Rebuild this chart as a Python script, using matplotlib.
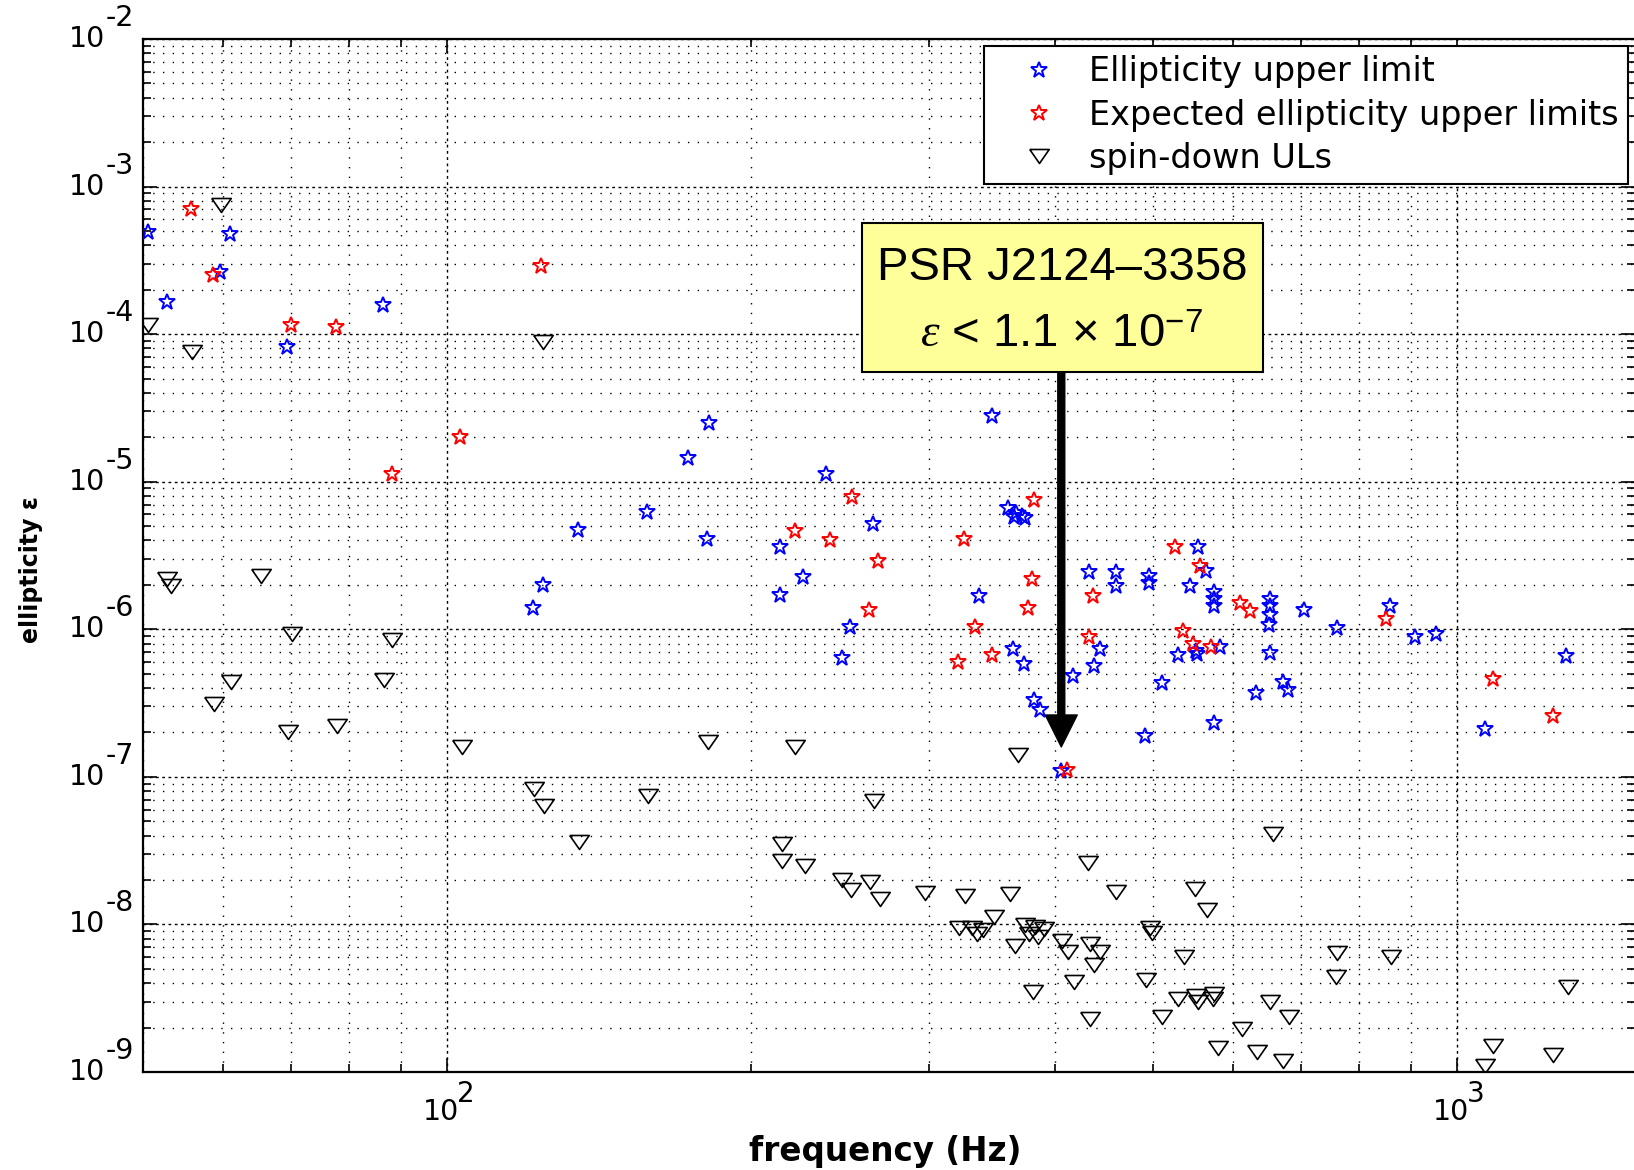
import numpy as np
import matplotlib
matplotlib.use('Agg')
import matplotlib.pyplot as plt
from matplotlib.patches import Rectangle
from matplotlib.lines import Line2D
from matplotlib.ticker import LogLocator, NullFormatter

plt.rcParams['mathtext.fontset'] = 'custom'
plt.rcParams['mathtext.rm'] = 'Liberation Sans'
plt.rcParams['mathtext.it'] = 'Liberation Serif:italic'
plt.rcParams['mathtext.bf'] = 'Liberation Sans:bold'

# ellipticity upper limits (blue stars)
ul_freq = [50.6, 52.8, 59.6, 61.0, 69.4, 86.5, 121.6, 124.4, 134.9, 157.9,
           173.3, 180.9, 181.6, 213.8, 213.8, 225.1, 237.0, 246.0, 250.3, 263.8,
           336.3, 346.7, 359, 364, 366, 370.5, 373.4, 363.5, 372.6, 381,
           386.4, 405.6, 417, 432, 437, 443, 459, 459, 491, 495,
           495, 510, 529, 543.5, 551, 553, 554, 564.5, 575, 575,
           575, 575, 582, 632, 652, 652, 652, 651, 652, 672,
           680, 706, 760, 859, 908, 952, 1065, 1282]
ul_eps = [4.9e-4, 1.66e-4, 2.65e-4, 4.8e-4, 8.2e-5, 1.58e-4, 1.4e-6, 2.0e-6, 4.7e-6, 6.2e-6,
          1.44e-5, 4.1e-6, 2.5e-5, 3.6e-6, 1.7e-6, 2.25e-6, 1.13e-5, 6.4e-7, 1.03e-6, 5.15e-6,
          1.67e-6, 2.8e-5, 6.6e-6, 5.8e-6, 6.1e-6, 5.9e-6, 5.7e-6, 7.3e-7, 5.8e-7, 3.3e-7,
          2.85e-7, 1.1e-7, 4.8e-7, 2.45e-6, 5.6e-7, 7.3e-7, 2.45e-6, 1.95e-6, 1.9e-7, 2.3e-6,
          2.05e-6, 4.3e-7, 6.7e-7, 1.97e-6, 7.1e-7, 6.8e-7, 3.6e-6, 2.5e-6, 1.8e-6, 1.6e-6,
          1.43e-6, 2.3e-7, 7.6e-7, 3.7e-7, 1.6e-6, 1.43e-6, 1.25e-6, 1.07e-6, 6.9e-7, 4.36e-7,
          3.9e-7, 1.35e-6, 1.02e-6, 1.43e-6, 8.9e-7, 9.3e-7, 2.1e-7, 6.6e-7]

# expected ellipticity upper limits (red stars)
exp_freq = [55.8, 58.6, 70.1, 77.7, 88.2, 103, 124, 220.9, 239.2, 251.7,
            261.5, 267, 320.8, 325, 333.3, 346.7, 376, 379, 381, 411,
            432, 436, 526, 535, 548, 557, 571, 610, 623, 850,
            1084, 1243]
exp_eps = [7.0e-4, 2.5e-4, 1.15e-4, 1.12e-4, 1.13e-5, 2.0e-5, 2.9e-4, 4.6e-6, 4.0e-6, 7.9e-6,
           1.35e-6, 2.9e-6, 6.0e-7, 4.1e-6, 1.04e-6, 6.7e-7, 1.4e-6, 2.2e-6, 7.5e-6, 1.12e-7,
           8.9e-7, 1.67e-6, 3.6e-6, 9.7e-7, 8.0e-7, 2.7e-6, 7.6e-7, 1.5e-6, 1.32e-6, 1.17e-6,
           4.6e-7, 2.6e-7]

# spin-down upper limits (triangles)
sd_freq = [50.6, 52.8, 53.3, 55.9, 58.8, 59.7, 61.1, 65.5, 69.6, 70.3,
           77.8, 86.6, 88.3, 103.4, 121.8, 124.6, 124.5, 135, 158.2, 181.2,
           214.7, 214.4, 221.2, 226, 246, 251, 262, 264.4, 268, 297,
           321.6, 326, 331, 335, 339, 348, 361, 365, 367.6, 373,
           377, 380, 382, 385, 390, 406, 412, 418, 431, 433,
           433, 437, 443, 460, 492, 497, 499, 510, 529, 537,
           550, 552, 554, 565, 573, 575, 580, 612, 633, 653,
           657, 673, 681, 759, 761, 861, 1065, 1085, 1245, 1288]
sd_eps = [1.15e-4, 2.2e-6, 1.95e-6, 7.6e-5, 3.1e-7, 7.5e-4, 4.4e-7, 2.3e-6, 2.0e-7, 9.3e-7,
          2.2e-7, 4.5e-7, 8.5e-7, 1.6e-7, 8.3e-8, 6.3e-8, 8.9e-5, 3.6e-8, 7.4e-8, 1.73e-7,
          3.5e-8, 2.7e-8, 1.6e-7, 2.5e-8, 2.0e-8, 1.7e-8, 1.95e-8, 6.9e-8, 1.48e-8, 1.64e-8,
          9.5e-9, 1.56e-8, 9.4e-9, 8.6e-9, 9.2e-9, 1.13e-8, 1.6e-8, 7.1e-9, 1.4e-7, 9.9e-9,
          8.6e-9, 3.5e-9, 9.6e-9, 8.2e-9, 9.3e-9, 7.7e-9, 6.5e-9, 4.1e-9, 2.6e-8, 7.4e-9,
          2.3e-9, 5.3e-9, 6.5e-9, 1.67e-8, 4.2e-9, 9.4e-9, 8.8e-9, 2.35e-9, 3.1e-9, 6.0e-9,
          1.73e-8, 3.25e-9, 3.0e-9, 1.26e-8, 3.1e-9, 3.4e-9, 1.45e-9, 1.95e-9, 1.36e-9, 3.0e-9,
          4.1e-8, 1.18e-9, 2.35e-9, 4.4e-9, 6.45e-9, 6.0e-9, 1.09e-9, 1.49e-9, 1.31e-9, 3.76e-9]

psr_name = 'PSR J2124\u20133358'
psr_freq = 405.6
psr_eps = 1.1e-7

W, H = 1634, 1170
def fx(px):
    return px / W
def fy(py):
    return 1 - py / H

fig = plt.figure(figsize=(W / 100, H / 100), dpi=100)
ax = fig.add_axes([fx(143), fy(1072), (1635 - 143) / W, (1072 - 39) / H])
ax.set_xscale('log')
ax.set_yscale('log')
ax.set_xlim(50, 1500)
ax.set_ylim(1e-9, 1e-2)

star_kw = dict(ls='none', marker='*', ms=12, mfc='none', mew=1.4)
tri = [(-1, 0.72), (1, 0.72), (0, -0.72), (-1, 0.72)]
tri_kw = dict(ls='none', marker=tri, ms=14, mfc='none', mec='k', mew=1.2)
ax.plot(ul_freq, ul_eps, mec='#0000ff', zorder=3, **star_kw)
ax.plot(exp_freq, exp_eps, mec='#ff0000', zorder=3, **star_kw)
ax.plot(sd_freq, sd_eps, zorder=3, **tri_kw)

ax.xaxis.set_major_locator(LogLocator(base=10, numticks=20))
ax.yaxis.set_major_locator(LogLocator(base=10, numticks=20))
ax.xaxis.set_minor_locator(LogLocator(base=10, subs=np.arange(2, 10), numticks=20))
ax.yaxis.set_minor_locator(LogLocator(base=10, subs=np.arange(2, 10), numticks=20))
for a in (ax.xaxis, ax.yaxis):
    a.set_major_formatter(NullFormatter())
    a.set_minor_formatter(NullFormatter())
ax.tick_params(which='both', direction='in', top=True, right=True, width=1.2)
ax.tick_params(which='major', length=10)
ax.tick_params(which='minor', length=6)
ax.grid(True, which='major', ls=(0, (2, 2.5)), color='k', lw=1.0)
ax.grid(True, which='minor', ls=(0, (1, 6)), color='k', lw=1.0)
for s in ax.spines.values():
    s.set_linewidth(1.6)

# MATLAB style tick labels
for e in range(-9, -1):
    ax.annotate('10', xy=(0, 10.0 ** e), xycoords=('axes fraction', 'data'),
                xytext=(-38 * 0.72, 0), textcoords='offset points',
                ha='right', va='center', fontsize=20.5, annotation_clip=False)
    ax.annotate(str(e), xy=(0, 10.0 ** e), xycoords=('axes fraction', 'data'),
                xytext=(-37 * 0.72, 21 * 0.72), textcoords='offset points',
                ha='left', va='center', fontsize=20.5, annotation_clip=False)
for e in (2, 3):
    ax.annotate('10', xy=(10.0 ** e, 0), xycoords=('data', 'axes fraction'),
                xytext=(12 * 0.72, -40 * 0.72), textcoords='offset points',
                ha='right', va='center', fontsize=20.5, annotation_clip=False)
    ax.annotate(str(e), xy=(10.0 ** e, 0), xycoords=('data', 'axes fraction'),
                xytext=(10 * 0.72, -22 * 0.72), textcoords='offset points',
                ha='left', va='center', fontsize=20, annotation_clip=False)

fig.text(fx(885), fy(1152), 'frequency (Hz)', ha='center', va='center',
         fontsize=23.5, fontweight='bold')
fig.text(fx(31), fy(570), 'ellipticity \u03b5', ha='center', va='center',
         rotation=90, fontsize=17, fontweight='bold')

handles = [
    Line2D([], [], mec='#0000ff', **star_kw),
    Line2D([], [], mec='#ff0000', **star_kw),
    Line2D([], [], **tri_kw),
]
labels = ['Ellipticity upper limit', 'Expected ellipticity upper limits', 'spin-down ULs']
leg = ax.legend(handles, labels, loc='upper right', bbox_to_anchor=(fx(1628), fy(46)),
                bbox_transform=fig.transFigure, borderaxespad=0, fontsize=24.1,
                frameon=True, fancybox=False, framealpha=1, edgecolor='k',
                borderpad=0.28, labelspacing=0.31, handlelength=2.75, handletextpad=0.12)
leg.get_frame().set_linewidth(1.5)
leg.set_zorder(10)

# arrow to the pulsar and the yellow note
ax.annotate('', xy=(psr_freq, psr_eps * 1.45), xytext=(psr_freq, 1e-4),
            arrowprops=dict(facecolor='k', edgecolor='k', width=5, headwidth=23,
                            headlength=23, shrink=0), zorder=4)
box = Rectangle((fx(862), fy(372)), (1263 - 862) / W, (372 - 223) / H,
                transform=fig.transFigure, facecolor='#ffff99', edgecolor='k',
                lw=1.5, zorder=5)
fig.add_artist(box)
fig.text(fx(1062.5), fy(280), psr_name, ha='center', va='baseline',
         fontsize=34, family='Liberation Sans', zorder=6)
fig.text(fx(1061.5), fy(347), '$\\varepsilon$ < 1.1 \u00d7 10$^{-7}$',
         ha='center', va='baseline', fontsize=34, family='Liberation Sans', zorder=6)

fig.savefig('out.png', dpi=100)
